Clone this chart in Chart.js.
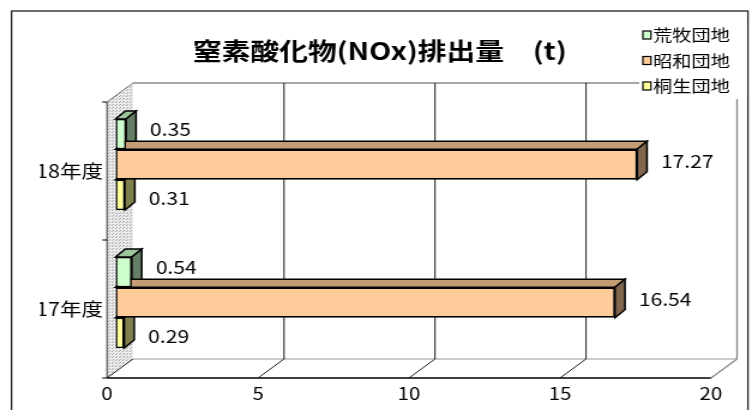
<!DOCTYPE html>
<html lang="ja">
<head>
<meta charset="utf-8">
<script src="https://cdn.jsdelivr.net/npm/chart.js@4.4.1/dist/chart.umd.min.js"></script>
<style>
  html, body { margin: 0; padding: 0; background: #fff; overflow: hidden; }
  /* the original picture is stretched sideways, so draw narrow and widen */
  #wrap { width: 627px; height: 410px; transform: scaleX(1.19936); transform-origin: 0 0; }
</style>
</head>
<body>
<div id="wrap"><canvas id="nox_chart" width="627" height="410"></canvas></div>
<script>
const categories = ['18年度', '17年度'];
const seriesNames = ['荒牧団地', '昭和団地', '桐生団地'];
const arakiValues = [0.35, 0.54];
const showaValues = [17.27, 16.54];
const kiryuValues = [0.31, 0.29];
const xTicks = [0, 5, 10, 15, 20];

const frontColors = ['#CCFFCC', '#FFCC99', '#FFFF99'];
const topColors = ['#9DC49D', '#C49D75', '#C4C475'];
const sideColors = ['#667F66', '#7F664C', '#7F7F4C'];
// value labels sit a little off the bar centre, per series
const labelShift = [-5, -3, 3];

// depth offsets, relative to the plane the bars stand on
const FRONT = { dx: -7.1, dy: 6.5 };
const BACK = { dx: 14.6, dy: -12.5 };
const BAR_DEPTH = { dx: 8.3, dy: -8 };

Chart.defaults.font.family = '"Noto Sans CJK JP", "Noto Sans", sans-serif';
Chart.defaults.color = '#000';

function dots() {
    const c = document.createElement('canvas');
    c.width = 3; c.height = 3;
    const g = c.getContext('2d');
    g.fillStyle = '#ececec';
    g.fillRect(0, 0, 3, 3);
    g.fillStyle = '#a8a8a8';
    g.fillRect(0, 0, 1, 1);
    g.fillRect(1, 2, 1, 1);
    return c;
}

function line(ctx, x1, y1, x2, y2, color, w) {
    ctx.beginPath();
    ctx.moveTo(x1, y1);
    ctx.lineTo(x2, y2);
    ctx.strokeStyle = color;
    ctx.lineWidth = w || 1;
    ctx.stroke();
}

function poly(ctx, pts, fill) {
    ctx.beginPath();
    ctx.moveTo(pts[0][0], pts[0][1]);
    for (let i = 1; i < pts.length; i++) ctx.lineTo(pts[i][0], pts[i][1]);
    ctx.closePath();
    ctx.fillStyle = fill;
    ctx.fill();
    ctx.strokeStyle = '#000';
    ctx.lineWidth = 1.5;
    ctx.stroke();
}

const box3d = {
    id: 'box3d',
    beforeDraw(chart) {
        const ctx = chart.ctx;
        ctx.save();
        ctx.fillStyle = '#fff';
        ctx.fillRect(0, 0, chart.width, chart.height);
        ctx.strokeStyle = '#222';
        ctx.lineWidth = 1.3;
        ctx.strokeRect(9.6, 11, 614, 410);
        ctx.restore();
    },
    beforeDatasetsDraw(chart) {
        const ctx = chart.ctx;
        const x = chart.scales.x;
        const top = chart.chartArea.top, bottom = chart.chartArea.bottom;
        const x0 = x.getPixelForValue(xTicks[0]);
        const xN = x.getPixelForValue(xTicks[xTicks.length - 1]);
        ctx.save();

        // left wall
        ctx.beginPath();
        ctx.moveTo(x0 + FRONT.dx, top + FRONT.dy);
        ctx.lineTo(x0 + BACK.dx, top + BACK.dy);
        ctx.lineTo(x0 + BACK.dx, bottom + BACK.dy);
        ctx.lineTo(x0 + FRONT.dx, bottom + FRONT.dy);
        ctx.closePath();
        ctx.fillStyle = ctx.createPattern(dots(), 'repeat');
        ctx.fill();
        line(ctx, x0 + FRONT.dx, top + FRONT.dy, x0 + BACK.dx, top + BACK.dy, '#666');
        line(ctx, x0 + FRONT.dx, top + FRONT.dy, x0 + FRONT.dx, bottom + FRONT.dy, '#333');

        // back wall
        line(ctx, x0 + BACK.dx, top + BACK.dy, xN + BACK.dx, top + BACK.dy, '#888', 1.3);
        line(ctx, xN + BACK.dx, top + BACK.dy, xN + BACK.dx, bottom + BACK.dy, '#888', 1.3);
        line(ctx, x0 + BACK.dx, bottom + BACK.dy, xN + BACK.dx, bottom + BACK.dy, '#999', 1);
        xTicks.slice(1, -1).forEach(v => {
            const px = x.getPixelForValue(v) + BACK.dx;
            line(ctx, px, top + BACK.dy, px, bottom + BACK.dy, '#000', 0.9);
        });

        // floor
        xTicks.forEach((v, i) => {
            const px = x.getPixelForValue(v);
            const last = i === xTicks.length - 1;
            line(ctx, px + FRONT.dx, bottom + FRONT.dy, px + BACK.dx, bottom + BACK.dy, last ? '#888' : '#000', last ? 1.3 : 0.9);
        });
        line(ctx, x0 + FRONT.dx, bottom + FRONT.dy, xN + FRONT.dx, bottom + FRONT.dy, '#000', 1.3);

        // category ticks on the front edge
        for (let i = 0; i <= categories.length; i++) {
            const ty = top + (bottom - top) * i / categories.length + FRONT.dy;
            line(ctx, x0 + FRONT.dx - 4, ty, x0 + FRONT.dx, ty, '#000', 1);
        }

        // top and side faces of the bars, front faces are drawn by Chart.js
        chart.data.datasets.forEach((ds, di) => {
            chart.getDatasetMeta(di).data.forEach(el => {
                const p = el.getProps(['x', 'y', 'base', 'height'], true);
                const l = Math.min(p.x, p.base), r = Math.max(p.x, p.base);
                const t = p.y - p.height / 2, b = p.y + p.height / 2;
                const dx = BAR_DEPTH.dx, dy = BAR_DEPTH.dy;
                poly(ctx, [[l, t], [r, t], [r + dx, t + dy], [l + dx, t + dy]], topColors[di]);
                poly(ctx, [[r, t], [r + dx, t + dy], [r + dx, b + dy], [r, b]], sideColors[di]);
            });
        });
        ctx.restore();
    },
    afterDatasetsDraw(chart) {
        const ctx = chart.ctx;
        ctx.save();
        ctx.font = '17.5px "Noto Sans CJK JP"';
        ctx.fillStyle = '#000';
        ctx.textAlign = 'left';
        ctx.textBaseline = 'middle';
        chart.data.datasets.forEach((ds, di) => {
            chart.getDatasetMeta(di).data.forEach((el, i) => {
                ctx.fillText(ds.data[i].toFixed(2), el.x + 20, el.y + labelShift[di]);
            });
        });
        ctx.restore();
    },
    afterDraw(chart) {
        const ctx = chart.ctx;
        ctx.save();
        ctx.fillStyle = '#fff';
        ctx.fillRect(533, 22, 89.5, 77);
        ctx.font = '16px "Noto Sans CJK JP"';
        ctx.textBaseline = 'middle';
        ctx.textAlign = 'left';
        chart.data.datasets.forEach((ds, di) => {
            const cy = 35 + di * 25.5;
            ctx.fillStyle = frontColors[di];
            ctx.fillRect(536, cy - 4, 6.7, 8);
            ctx.strokeStyle = '#000';
            ctx.lineWidth = 1.2;
            ctx.strokeRect(536, cy - 4, 6.7, 8);
            ctx.fillStyle = '#000';
            ctx.fillText(ds.label, 544.5, cy);
        });
        ctx.restore();
    }
};

const values = [arakiValues, showaValues, kiryuValues];

new Chart(document.getElementById('nox_chart'), {
    type: 'bar',
    data: {
        labels: categories,
        datasets: seriesNames.map((name, i) => ({
            label: name,
            data: values[i],
            backgroundColor: frontColors[i],
            borderColor: '#000',
            borderWidth: 1.6,
            borderSkipped: false,
            categoryPercentage: 0.66,
            barPercentage: 1.0
        }))
    },
    options: {
        indexAxis: 'y',
        responsive: false,
        animation: false,
        layout: {
            padding: { left: 33.3, right: 27.1, top: 0, bottom: 0 }
        },
        plugins: {
            legend: { display: false },
            tooltip: { enabled: false },
            title: {
                display: true,
                text: '窒素酸化物(NOx)排出量　(t)',
                font: { size: 24, weight: 'bold' },
                color: '#000',
                padding: { top: 36.4, bottom: 30.3 }
            }
        },
        scales: {
            x: {
                min: xTicks[0],
                max: xTicks[xTicks.length - 1],
                grid: { display: false, drawTicks: false },
                border: { display: false },
                ticks: { stepSize: 5, padding: 12, labelOffset: FRONT.dx, font: { size: 17 }, color: '#000' },
                afterFit(scale) { scale.height = 38.5; }
            },
            y: {
                grid: { display: false, drawTicks: false },
                border: { display: false },
                ticks: { padding: 10.4, labelOffset: FRONT.dy, font: { size: 18 }, color: '#000' },
                afterFit(scale) { scale.width = 63; }
            }
        }
    },
    plugins: [box3d]
});
</script>
</body>
</html>
